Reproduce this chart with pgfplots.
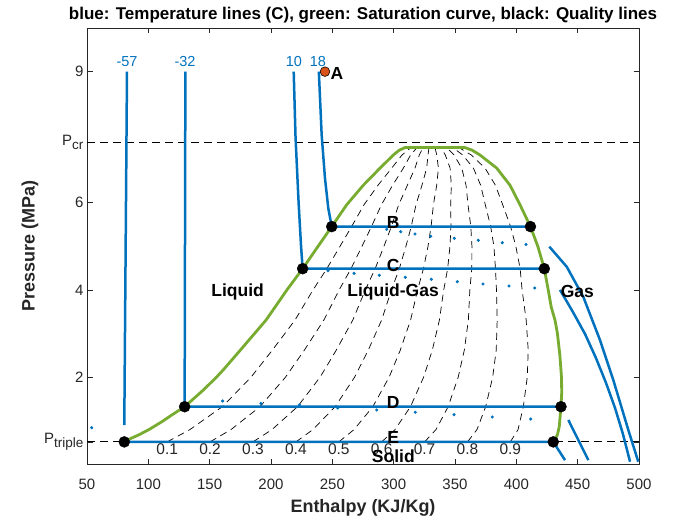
\documentclass[border=0pt]{standalone}
\usepackage{fontspec}
\setmainfont{Liberation Sans}
\usepackage{pgfplots}
\pgfplotsset{compat=1.18}
\definecolor{mblue}{rgb}{0,0.447,0.741}
\definecolor{mgreen}{rgb}{0.466,0.674,0.188}
\definecolor{morange}{rgb}{0.85,0.325,0.098}
\definecolor{axgray}{rgb}{0.15,0.15,0.15}
\newcommand{\fs}[1]{\fontsize{#1}{#1}\selectfont}
\begin{document}
\begin{tikzpicture}
\path[use as bounding box] (0,0) rectangle (700pt,522pt);
\begin{axis}[
  at={(87pt,57.5pt)}, anchor=south west,
  width=552pt, height=436.5pt, scale only axis,
  xmin=50, xmax=500, ymin=0, ymax=10,
  xtick={50,100,150,200,250,300,350,400,450,500},
  xticklabels={50,100,150,200,250,300,350,400,450,500},
  ytick={0.518,2,4,6,7.38,9},
  yticklabels={P\raisebox{-0.3em}{\fs{13.5}triple},2,4,6,P\raisebox{-0.3em}{\fs{13.5}cr},9},
  tick align=inside,
  major tick length=5.5pt,
  tick style={axgray, line width=0.6pt},
  axis line style={axgray, line width=0.7pt},
  ticklabel style={font=\fs{15}, text=axgray},
  xticklabel style={anchor=base, yshift=-24.8pt},
  every axis title shift=0pt,
  title={blue: Temperature lines (C), green: Saturation curve, black: Quality lines},
  title style={font=\fs{17}\bfseries, at={(axis description cs:0.5,1)}, anchor=base, yshift=8pt},
  xlabel={Enthalpy (KJ/Kg)},
  xlabel style={font=\fs{18}\bfseries, text=axgray, at={(axis description cs:0.5,0)}, anchor=base, yshift=-48pt},
  ylabel={Pressure (MPa)},
  ylabel style={font=\fs{18}\bfseries, text=axgray, at={(axis description cs:-0.1033,0.5)}, anchor=center},
  clip mode=individual,
]
% reference pressures
\addplot[black, line width=0.8pt, dash pattern=on 8pt off 5pt] coordinates {(50,7.38)(500,7.38)};
\addplot[black, line width=0.8pt, dash pattern=on 8pt off 5pt] coordinates {(50,0.518)(500,0.518)};
% quality lines
\addplot[black, line width=0.7pt, dash pattern=on 7pt off 5pt] coordinates {(115.4,0.518)(133.9,0.8)(160.3,1.324)(183.7,2.0)(201.1,2.62)(219.6,3.31)(234.3,4.0)(245.5,4.486)(256.3,5.0)(265.7,5.45)(275.8,5.95)(287.3,6.4)(298.4,6.79)(306.8,7.09)(314.1,7.26)};
\addplot[black, line width=0.7pt, dash pattern=on 7pt off 5pt] coordinates {(150.3,0.518)(167.4,0.8)(191.0,1.324)(211.8,2.0)(227.2,2.62)(243.1,3.31)(255.6,4.0)(265.2,4.486)(274.2,5.0)(281.9,5.45)(290.0,5.95)(299.2,6.4)(307.9,6.79)(313.8,7.09)(319.0,7.26)};
\addplot[black, line width=0.7pt, dash pattern=on 7pt off 5pt] coordinates {(185.3,0.518)(200.8,0.8)(221.6,1.324)(240.0,2.0)(253.2,2.62)(266.7,3.31)(276.9,4.0)(284.9,4.486)(292.1,5.0)(298.1,5.45)(304.1,5.95)(311.2,6.4)(317.4,6.79)(320.9,7.09)(323.9,7.26)};
\addplot[black, line width=0.7pt, dash pattern=on 7pt off 5pt] coordinates {(220.3,0.518)(234.2,0.8)(252.3,1.324)(268.1,2.0)(279.3,2.62)(290.2,3.31)(298.2,4.0)(304.6,4.486)(310.0,5.0)(314.3,5.45)(318.2,5.95)(323.1,6.4)(326.9,6.79)(328.0,7.09)(328.8,7.26)};
\addplot[black, line width=0.7pt, dash pattern=on 7pt off 5pt] coordinates {(255.3,0.518)(267.7,0.8)(283.0,1.324)(296.3,2.0)(305.4,2.62)(313.8,3.31)(319.5,4.0)(324.3,4.486)(328.0,5.0)(330.5,5.45)(332.4,5.95)(335.1,6.4)(336.5,6.79)(335.1,7.09)(333.7,7.26)};
\addplot[black, line width=0.7pt, dash pattern=on 7pt off 5pt] coordinates {(290.2,0.518)(301.1,0.8)(313.7,1.324)(324.4,2.0)(331.5,2.62)(337.3,3.31)(340.8,4.0)(344.0,4.486)(345.9,5.0)(346.7,5.45)(346.5,5.95)(347.0,6.4)(346.0,6.79)(342.1,7.09)(338.5,7.26)};
\addplot[black, line width=0.7pt, dash pattern=on 7pt off 5pt] coordinates {(325.2,0.518)(334.5,0.8)(344.4,1.324)(352.6,2.0)(357.6,2.62)(360.9,3.31)(362.1,4.0)(363.7,4.486)(363.8,5.0)(362.9,5.45)(360.6,5.95)(359.0,6.4)(355.5,6.79)(349.2,7.09)(343.4,7.26)};
\addplot[black, line width=0.7pt, dash pattern=on 7pt off 5pt] coordinates {(360.2,0.518)(367.9,0.8)(375.0,1.324)(380.7,2.0)(383.6,2.62)(384.4,3.31)(383.8,4.0)(383.0,4.486)(381.7,5.0)(379.1,5.45)(374.7,5.95)(370.9,6.4)(365.0,6.79)(356.3,7.09)(348.3,7.26)};
\addplot[black, line width=0.7pt, dash pattern=on 7pt off 5pt] coordinates {(395.1,0.518)(401.4,0.8)(405.7,1.324)(408.9,2.0)(409.7,2.62)(408.0,3.31)(404.7,4.0)(403.1,4.486)(399.6,5.0)(395.3,5.45)(388.9,5.95)(382.9,6.4)(374.5,6.79)(363.3,7.09)(353.2,7.26)};
% saturation curve
\addplot[mgreen, line width=2.8pt, line join=round] coordinates {(80.4,0.518)(86,0.6)(92,0.676)(100.5,0.8)(111,0.98)(120,1.15)(129.6,1.324)(145,1.71)(155.5,2.0)(161,2.165)(175,2.62)(196,3.31)(213,4.0)(225.8,4.486)(238.4,5.0)(249.5,5.45)(261.7,5.95)(275.3,6.40)(288.9,6.79)(299.7,7.09)(304.5,7.2)(309.2,7.26)(358.1,7.26)(364,7.2)(370.4,7.09)(384,6.79)(394.8,6.40)(403,5.95)(411.5,5.45)(417.5,5.0)(422.8,4.486)(426,4.0)(428.5,3.6)(431.5,3.31)(433.5,3.0)(435.5,2.5)(436.8,2.0)(437,1.65)(436.4,1.324)(435,0.87)(433.5,0.68)(430.1,0.518)};
% temperature lines
\addplot[mblue, line width=2.5pt] coordinates {(82.6,9)(80.4,0.9)};
\addplot[mblue, line width=2.5pt] coordinates {(130.2,9)(129.6,1.324)(436.4,1.324)};
\addplot[mblue, line width=2.5pt] coordinates {(218.5,9)(220,7.5)(222.5,6)(224.5,5)(225.8,4.486)(422.8,4.486)};
\addplot[mblue, line width=2.5pt] coordinates {(239,9)(241.3,7.55)(244,6.56)(246.7,5.87)(249.5,5.45)(411.5,5.45)};
\addplot[mblue, line width=2.5pt] coordinates {(80.4,0.518)(430.1,0.518)(439.7,0.10)};
\addplot[mblue, line width=2.5pt] coordinates {(442.4,1.02)(458.7,0.10)};
\addplot[mblue, line width=2.5pt] coordinates {(435.6,4.00)(446.2,3.49)(456.0,2.99)(464.9,2.44)(473.1,1.87)(480.4,1.30)(486.9,0.70)(492.7,0.064)};
\addplot[mblue, line width=2.5pt] coordinates {(426.9,4.99)(441.1,4.53)(454.6,3.84)(468.2,2.85)(479.0,1.94)(491.3,0.79)(499.4,0.064)};
% sparse points
\addplot[only marks, mark=*, mark size=1.4pt, mblue] coordinates {(294.3,5.388)(305.7,5.333)(317.4,5.281)(330.2,5.228)(349.4,5.182)(369.0,5.136)(388.6,5.081)(407.9,5.040)};
\addplot[only marks, mark=*, mark size=1.4pt, mblue] coordinates {(246.5,4.44)(267.7,4.38)(288.3,4.335)(309.5,4.289)(330.7,4.243)(351.9,4.188)(372.8,4.135)(394.0,4.089)(415.0,4.044)};
\addplot[only marks, mark=*, mark size=1.4pt, mblue] coordinates {(160.6,1.455)(191.8,1.40)(223.1,1.363)(254.4,1.294)(286.2,1.249)(317.6,1.196)(349.2,1.141)(380.4,1.088)(411.7,1.042)(53.8,0.843)};
% state points
\addplot[only marks, mark=*, mark size=5.5pt, black] coordinates {(80.4,0.518)(129.6,1.324)(225.8,4.486)(249.5,5.45)(411.5,5.45)(422.8,4.486)(436.4,1.324)(430.1,0.518)};
\addplot[only marks, mark=*, mark size=4.8pt, draw=black, fill=morange, mark options={line width=0.6pt}] coordinates {(244,9)};
% text
\node[mblue, font=\fs{14.5}, anchor=base] at (axis cs:82.6,9.11) {-57};
\node[mblue, font=\fs{14.5}, anchor=base] at (axis cs:129.9,9.11) {-32};
\node[mblue, font=\fs{14.5}, anchor=base] at (axis cs:218.7,9.11) {10};
\node[mblue, font=\fs{14.5}, anchor=base] at (axis cs:238.3,9.11) {18};
\node[font=\fs{17.5}\bfseries] at (axis cs:253.8,8.95) {A};
\foreach \q/\h in {0.1/115.4,0.2/150.3,0.3/185.3,0.4/220.3,0.5/255.3,0.6/290.2,0.7/325.2,0.8/360.2,0.9/395.1}{
  \edef\tmp{\noexpand\node[font=\noexpand\fs{15.5}, text=axgray] at (axis cs:\h,0.355) {\q};}\tmp
}
\node[font=\fs{17.5}\bfseries] at (axis cs:299.7,5.54) {B};
\node[font=\fs{17.5}\bfseries] at (axis cs:299.7,4.57) {C};
\node[font=\fs{17.5}\bfseries] at (axis cs:299.7,1.416) {D};
\node[font=\fs{17.5}\bfseries] at (axis cs:299.7,0.623) {E};
\node[font=\fs{17.5}\bfseries] at (axis cs:299.7,0.18) {Solid};
\node[font=\fs{17.5}\bfseries] at (axis cs:172.8,3.96) {Liquid};
\node[font=\fs{17.5}\bfseries] at (axis cs:299.5,3.96) {Liquid-Gas};
\node[font=\fs{17.5}\bfseries] at (axis cs:449.7,3.96) {Gas};
\end{axis}
\end{tikzpicture}
\end{document}
